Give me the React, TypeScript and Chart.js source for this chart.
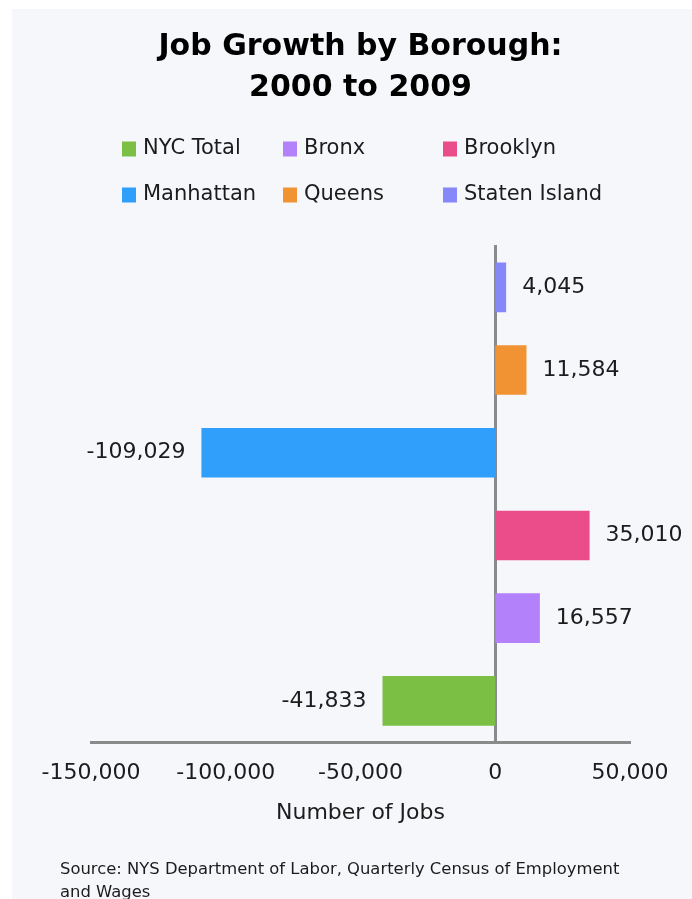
import React, { useEffect, useRef } from "react";
import { Chart, registerables } from "chart.js";

Chart.register(...registerables);

// ---- data ----
const categories = ["NYC Total", "Bronx", "Brooklyn", "Manhattan", "Queens", "Staten Island"];
const jobChange = [-41833, 16557, 35010, -109029, 11584, 4045];
const barColors = ["#7bbf44", "#b381fa", "#ea4d8a", "#2f9ffb", "#f29333", "#8688fa"];
const xMin = -150000;
const xMax = 50000;
const xStep = 50000;
const titleLines = ["Job Growth by Borough:", "2000 to 2009"];
const axisTitle = "Number of Jobs";
const sourceLines = [
  "Source: NYS Department of Labor, Quarterly Census of Employment",
  "and Wages",
];

const FONT = '"DejaVu Sans", sans-serif';
const TEXT = "#1c1c1c";
const AXIS = "#8a8a8a";

const fmt = (v: number) => v.toLocaleString("en-US");

const valueLabels = {
  id: "valueLabels",
  afterDatasetsDraw(chart: any) {
    const ctx = chart.ctx;
    const meta = chart.getDatasetMeta(0);
    const data = chart.data.datasets[0].data as number[];
    ctx.save();
    ctx.font = `22px ${FONT}`;
    ctx.fillStyle = TEXT;
    ctx.textBaseline = "middle";
    meta.data.forEach((bar: any, i: number) => {
      const v = data[i];
      if (v >= 0) {
        ctx.textAlign = "left";
        ctx.fillText(fmt(v), bar.x + 16, bar.y);
      } else {
        ctx.textAlign = "right";
        ctx.fillText(fmt(v), bar.x - 16, bar.y);
      }
    });
    ctx.restore();
  },
};

const gridLegend = {
  id: "gridLegend",
  afterDraw(chart: any) {
    const ctx = chart.ctx;
    const labels = chart.data.labels as string[];
    const colors = chart.data.datasets[0].backgroundColor as string[];
    const colX = [110, 271, 431];
    const rowY = [140, 186];
    ctx.save();
    ctx.font = `21px ${FONT}`;
    ctx.textBaseline = "middle";
    ctx.textAlign = "left";
    labels.forEach((lab, i) => {
      const x = colX[i % 3];
      const y = rowY[Math.floor(i / 3)];
      ctx.fillStyle = colors[i];
      ctx.fillRect(x, y - 7.5, 14, 15);
      ctx.fillStyle = TEXT;
      ctx.fillText(lab, x + 21, y);
    });
    ctx.restore();
  },
};

const sourceNote = {
  id: "sourceNote",
  afterDraw(chart: any) {
    const ctx = chart.ctx;
    ctx.save();
    ctx.font = `16.4px ${FONT}`;
    ctx.fillStyle = TEXT;
    ctx.textBaseline = "middle";
    ctx.textAlign = "left";
    sourceLines.forEach((line, i) => ctx.fillText(line, 48, 861 + i * 23));
    ctx.restore();
  },
};

export default function App() {
  const ref = useRef<HTMLCanvasElement | null>(null);

  useEffect(() => {
    if (!ref.current) return;
    const chart = new Chart(ref.current, {
      type: "bar",
      data: {
        labels: categories,
        datasets: [
          {
            label: "Job growth",
            data: jobChange,
            backgroundColor: barColors,
            borderWidth: 0,
            barPercentage: 0.6,
            categoryPercentage: 1,
          },
        ],
      },
      options: {
        indexAxis: "y",
        responsive: false,
        animation: false,
        layout: { padding: { left: 79, right: 62, top: 0, bottom: 57 } },
        plugins: {
          legend: { display: false },
          tooltip: { enabled: false },
          title: {
            display: true,
            text: titleLines,
            color: "#000",
            font: { family: FONT, size: 30, weight: "bold", lineHeight: 41 / 30 },
            padding: { top: 17.5, bottom: 137.5 },
          },
        },
        scales: {
          x: {
            type: "linear",
            min: xMin,
            max: xMax,
            grid: { display: false, drawTicks: false },
            border: { display: true, color: AXIS, width: 3 },
            ticks: {
              stepSize: xStep,
              color: TEXT,
              padding: 18,
              font: { family: FONT, size: 22 },
              callback: (v: any) => fmt(Number(v)),
            },
            title: {
              display: true,
              text: axisTitle,
              color: TEXT,
              font: { family: FONT, size: 22 },
              padding: { top: -5, bottom: 16 },
            },
          },
          y: {
            type: "category",
            reverse: true,
            position: { x: 0 } as any,
            z: 1,
            grid: { display: false, drawTicks: false },
            border: { display: true, color: AXIS, width: 3 },
            ticks: { display: false },
          },
        },
      },
      plugins: [valueLabels, gridLegend, sourceNote],
    });
    return () => chart.destroy();
  }, []);

  return (
    <div
      style={{
        position: "fixed",
        left: 12,
        top: 9,
        width: 680,
        height: 890,
        background: "#f6f7fb",
      }}
    >
      <canvas ref={ref} width={680} height={890} style={{ display: "block" }} />
    </div>
  );
}
